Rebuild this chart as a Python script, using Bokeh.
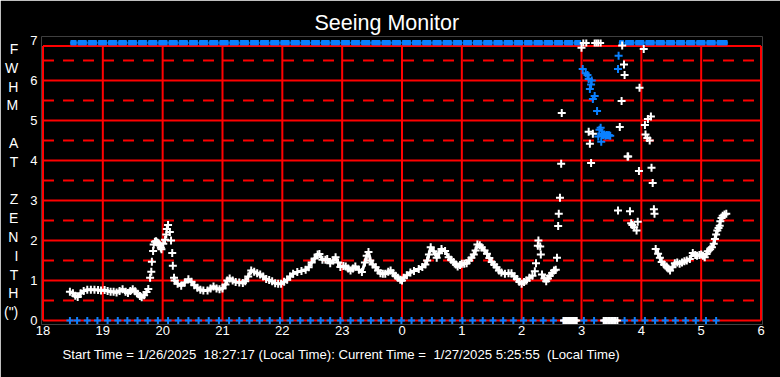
import math
from bokeh.plotting import figure
from bokeh.models import Range1d, FixedTicker, Title, LinearAxis
from bokeh.embed import file_html
from bokeh.resources import INLINE

# ---------------- data (hours since midnight 1/26; 24 = 0h on 1/27) ----------------
hour_ticks = [18, 19, 20, 21, 22, 23, 24, 25, 26, 27, 28, 29, 30]
hour_labels = ["18", "19", "20", "21", "22", "23", "0", "1", "2", "3", "4", "5", "6"]
fwhm_ticks = [0, 1, 2, 3, 4, 5, 6, 7]

# white series: dense bands (seeing FWHM)
band_a_t = [18.45, 18.50, 18.54, 18.58, 18.63, 18.68, 18.74, 18.80, 18.86, 18.92, 18.97, 19.03,
            19.08, 19.13, 19.18, 19.23, 19.28, 19.33, 19.38, 19.42, 19.46, 19.50, 19.54, 19.58,
            19.62, 19.65, 19.69, 19.73, 19.76]
band_a_v = [0.72, 0.68, 0.62, 0.59, 0.68, 0.74, 0.77, 0.77, 0.77, 0.76, 0.75, 0.76,
            0.74, 0.72, 0.72, 0.70, 0.74, 0.78, 0.72, 0.69, 0.74, 0.78, 0.73, 0.67,
            0.61, 0.58, 0.63, 0.71, 0.79]

band_c_t = [20.20, 20.25, 20.31, 20.37, 20.43, 20.48, 20.53, 20.58, 20.63, 20.68, 20.75, 20.80,
            20.85, 20.90, 20.95, 21.00, 21.05, 21.08, 21.12, 21.17, 21.22, 21.28, 21.34, 21.38,
            21.43, 21.48, 21.53, 21.58, 21.63, 21.68, 21.73, 21.78, 21.83, 21.88, 21.93, 21.98,
            22.03, 22.08, 22.13, 22.18, 22.25, 22.32, 22.39, 22.44, 22.49, 22.54, 22.59, 22.62,
            22.67, 22.72, 22.75, 22.80, 22.85, 22.89, 22.93, 22.97, 23.02, 23.06, 23.10, 23.14,
            23.18, 23.22, 23.28, 23.33, 23.38, 23.41, 23.44, 23.47, 23.51, 23.56, 23.60, 23.64,
            23.68, 23.72, 23.77, 23.81, 23.85, 23.89, 23.93, 23.97, 24.00, 24.03, 24.08, 24.14,
            24.20, 24.28, 24.34, 24.39, 24.42, 24.45, 24.48, 24.53, 24.58, 24.62, 24.66, 24.72,
            24.78, 24.82, 24.86, 24.90, 24.93, 24.97, 25.00, 25.04, 25.08, 25.12, 25.16, 25.20,
            25.23, 25.26, 25.30, 25.33, 25.38, 25.42, 25.46, 25.50, 25.54, 25.58, 25.62, 25.66,
            25.72, 25.78, 25.83, 25.88, 25.92, 25.96, 26.00, 26.04, 26.08, 26.13, 26.18]
band_c_v = [1.00, 0.92, 0.87, 0.95, 1.03, 0.97, 0.88, 0.82, 0.77, 0.75, 0.75, 0.80,
            0.85, 0.80, 0.78, 0.80, 0.90, 1.00, 1.05, 1.00, 0.96, 0.95, 0.94, 0.98,
            1.10, 1.25, 1.22, 1.18, 1.15, 1.10, 1.04, 1.01, 0.98, 0.93, 0.92, 0.92,
            0.97, 1.02, 1.10, 1.17, 1.21, 1.24, 1.27, 1.33, 1.45, 1.55, 1.65, 1.66,
            1.52, 1.52, 1.54, 1.43, 1.50, 1.58, 1.45, 1.34, 1.36, 1.35, 1.30, 1.25,
            1.30, 1.35, 1.27, 1.21, 1.45, 1.62, 1.71, 1.50, 1.40, 1.33, 1.25, 1.18,
            1.17, 1.17, 1.22, 1.25, 1.18, 1.12, 1.07, 1.02, 1.00, 1.07, 1.13, 1.20,
            1.24, 1.29, 1.34, 1.40, 1.50, 1.65, 1.83, 1.73, 1.57, 1.68, 1.79, 1.74,
            1.58, 1.52, 1.46, 1.40, 1.35, 1.39, 1.42, 1.42, 1.43, 1.50, 1.57, 1.65,
            1.75, 1.90, 1.88, 1.83, 1.75, 1.67, 1.56, 1.46, 1.40, 1.33, 1.25, 1.20,
            1.17, 1.18, 1.18, 1.10, 1.04, 0.97, 0.92, 0.96, 1.00, 1.07, 1.12]

band_e_t = [26.34, 26.38, 26.41, 26.44, 26.47, 26.51, 26.54, 26.57]
band_e_v = [1.15, 1.05, 0.98, 1.05, 1.12, 1.19, 1.25, 1.27]

band_g_t = [28.24, 28.28, 28.31, 28.34, 28.38, 28.42, 28.45, 28.48, 28.52, 28.56, 28.60, 28.64,
            28.68, 28.72, 28.76, 28.81, 28.86, 28.90, 28.93, 28.97, 29.00, 29.03, 29.06, 29.09,
            29.11, 29.15, 29.18, 29.21, 29.23, 29.25, 29.27, 29.29, 29.31, 29.32, 29.34, 29.36,
            29.39, 29.42]
band_g_v = [1.79, 1.67, 1.57, 1.46, 1.40, 1.35, 1.30, 1.25, 1.33, 1.43, 1.45, 1.42,
            1.45, 1.48, 1.50, 1.54, 1.69, 1.64, 1.62, 1.64, 1.65, 1.62, 1.58, 1.66,
            1.73, 1.78, 1.83, 1.92, 2.04, 2.15, 2.25, 2.31, 2.37, 2.48, 2.56, 2.62,
            2.65, 2.67]

# white series: isolated points
scat_t = [19.79, 19.81, 19.82, 19.84, 19.85, 19.87, 19.89, 19.91, 19.93, 19.95, 19.97, 19.98,
          20.01, 20.04, 20.06, 20.07, 20.09, 20.12, 20.14, 20.16, 20.17, 20.19,
          26.22, 26.24, 26.27, 26.28, 26.31, 26.32,
          26.59, 26.61, 26.62, 26.64, 26.66, 26.67,
          27.00, 27.12, 27.19, 27.14, 27.16,
          27.61, 27.64, 27.67, 27.68, 27.71, 27.72, 27.77, 27.78, 27.81, 27.83, 27.85, 27.88,
          27.92, 27.94, 27.96, 27.97, 28.04, 28.06, 28.07, 28.10, 28.11, 28.14, 28.16, 28.17,
          28.19, 28.21, 28.22]
scat_v = [1.07, 1.22, 1.47, 1.74, 1.90, 1.97, 1.98, 1.95, 1.93, 1.88, 1.82, 1.78,
          1.92, 2.02, 2.15, 2.29, 2.39, 2.21, 2.00, 1.69, 1.37, 1.07,
          1.23, 1.43, 1.87, 2.00, 1.85, 1.65,
          1.57, 2.36, 2.67, 3.07, 3.92, 5.19,
          6.82, 4.72, 4.67, 4.42, 3.94,
          2.75, 4.84, 5.49, 6.875, 6.40, 6.14, 4.10, 4.10, 2.73, 2.43, 2.39, 2.33,
          2.25, 2.47, 3.74, 5.82, 6.79, 4.89, 4.65, 4.56, 5.04, 4.50, 5.10, 3.82,
          3.44, 2.78, 2.67]

# white points pinned at the bottom / top edges
white_low_t = [26.70, 26.725, 26.75, 26.775, 26.80, 26.825, 26.85, 26.875, 26.90, 26.92,
               27.37, 27.395, 27.42, 27.445, 27.47, 27.495, 27.52, 27.545, 27.57, 27.60]
white_low_v = [0.0] * len(white_low_t)
white_top_t = [27.03, 27.08, 27.22, 27.25, 27.28, 27.32]
white_top_v = [6.94] * len(white_top_t)

# blue series
blue_low_t = [18.45, 18.57, 18.74, 18.91, 19.08, 19.25, 19.41, 19.58, 19.75, 19.92, 20.09,
              20.26, 20.43, 20.60, 20.77, 20.94, 21.11, 21.28, 21.45, 21.62, 21.79, 21.96,
              22.13, 22.30, 22.47, 22.64, 22.80, 22.97, 23.14, 23.31, 23.48, 23.65, 23.82,
              23.99, 24.16, 24.33, 24.50, 24.67, 24.84, 25.01, 25.18, 25.35, 25.52, 25.69,
              25.86, 26.03, 26.19, 26.36, 26.53, 26.70, 26.87, 27.04, 27.21, 27.38, 27.55,
              27.72, 27.89, 28.06, 28.23, 28.40, 28.57, 28.74, 28.91, 29.08, 29.25]
blue_low_v = [0.0] * len(blue_low_t)

top_run_start = [18.45, 27.62]
top_run_end = [27.00, 29.45]

blue_mid_t = [27.02, 27.07, 27.10, 27.12, 27.17, 27.16, 27.14, 27.22, 27.19, 27.26, 27.30,
              27.32, 27.28, 27.33, 27.34, 27.36, 27.38, 27.40, 27.42, 27.44, 27.46, 27.48,
              27.61, 27.62]
blue_mid_v = [6.29, 6.18, 6.14, 6.04, 6.00, 5.90, 5.79, 5.61, 5.54, 5.24, 4.77,
              4.82, 4.60, 4.47, 4.66, 4.64, 4.65, 4.62, 4.64, 4.63, 4.63, 4.62,
              6.29, 6.62]

y_letters = ["F", "W", "H", "M", " ", "A", "T", " ", "Z", "E", "N", "I", "T", "H", "(\")"]
title_text = "Seeing Monitor"
footer_text = ("Start Time = 1/26/2025\u00a0\u00a018:27:17 (Local Time): Current Time =\u00a0\u00a0"
               "1/27/2025 5:25:55\u00a0\u00a0(Local Time)")

# ---------------- styling ----------------
BLUE = "#0a80ff"
RED = "#ff0000"
FONT = "Liberation Sans"

p = figure(width=780, height=377, output_backend="svg", toolbar_location=None,
           x_range=Range1d(17.975, 30.025), y_range=Range1d(-0.1, 7.1),
           min_border_left=39, min_border_right=18, min_border_top=36, min_border_bottom=53,
           background_fill_color="black", border_fill_color="black",
           outline_line_color=None)
p.grid.visible = False

p.title.text = title_text
p.title.align = "left"
p.title.offset = 273
p.title.text_color = "white"
p.title.text_font = FONT
p.title.text_font_size = "21.5px"
p.title.text_font_style = "normal"
p.title.standoff = 4

p.add_layout(Title(text=footer_text, align="left", offset=21, text_color="white",
                   text_font=FONT, text_font_size="13.2px", text_font_style="normal",
                   standoff=15), "below")

p.xaxis.ticker = FixedTicker(ticks=hour_ticks)
p.xaxis.major_label_overrides = {t: s for t, s in zip(hour_ticks, hour_labels)}
p.yaxis.ticker = FixedTicker(ticks=fwhm_ticks)
for ax in (p.xaxis, p.yaxis):
    ax.axis_line_color = None
    ax.major_tick_line_color = None
    ax.minor_tick_line_color = None
    ax.major_tick_out = 0
    ax.major_tick_in = 0
    ax.major_label_text_color = "white"
    ax.major_label_text_font = FONT
    ax.major_label_text_font_size = "13px"
p.xaxis.major_label_standoff = 1
p.yaxis.major_label_standoff = 4

# vertical stacked y-axis title
ya = p.yaxis[0]
ya.axis_label = "\n".join(y_letters)
ya.axis_label_text_color = "white"
ya.axis_label_text_font = FONT
ya.axis_label_text_font_size = "14px"
ya.axis_label_text_font_style = "normal"
ya.axis_label_text_line_height = 1.175
ya.axis_label_text_align = "center"
ya.axis_label_standoff = 9
ya.axis_label_orientation = "horizontal"

# red grid / frame
top_edge = 6.8625
x_lo, x_hi = hour_ticks[0], hour_ticks[-1]
p.segment(x0=hour_ticks, x1=hour_ticks, y0=[0] * len(hour_ticks), y1=[top_edge] * len(hour_ticks),
          line_color=RED, line_width=2)
solid_y = fwhm_ticks[:-1] + [top_edge]
p.segment(x0=[x_lo] * len(solid_y), x1=[x_hi] * len(solid_y), y0=solid_y, y1=solid_y,
          line_color=RED, line_width=2)
dash_y = [v + 0.5 for v in fwhm_ticks[:-1]]
p.segment(x0=[x_lo] * len(dash_y), x1=[x_hi] * len(dash_y), y0=dash_y, y1=dash_y,
          line_color=RED, line_width=2, line_dash="11 9")

# blue top bar (dense points at the upper limit, notched at the low readings)
notch = 0.015
blk_l, blk_r = [], []
for s, e in zip(top_run_start, top_run_end):
    cuts = [s] + [t for t in blue_low_t if s < t < e] + [e]
    for a, b in zip(cuts[:-1], cuts[1:]):
        blk_l.append(a + notch)
        blk_r.append(b - notch)
p.segment(x0=top_run_start, x1=top_run_end, y0=[6.94] * 2, y1=[6.94] * 2, line_color=BLUE, line_width=1)
p.quad(left=blk_l, right=blk_r, bottom=6.89, top=7.0, color=BLUE)

p.scatter(blue_low_t, blue_low_v, marker="cross", size=7, line_color=BLUE, line_width=2)
p.scatter(blue_mid_t, blue_mid_v, marker="cross", size=8, line_color=BLUE, line_width=2)

# white series
for bt, bv in ((band_a_t, band_a_v), (band_c_t, band_c_v), (band_e_t, band_e_v), (band_g_t, band_g_v)):
    p.line(bt, bv, line_color="white", line_width=3)
    p.scatter(bt, bv, marker="cross", size=8, line_color="white", line_width=2)
p.scatter(scat_t, scat_v, marker="cross", size=8, line_color="white", line_width=2)
p.scatter(white_low_t, white_low_v, marker="cross", size=7, line_color="white", line_width=2)
p.scatter(white_top_t, white_top_v, marker="cross", size=7, line_color="white", line_width=2)

open("out.html", "w").write(file_html(p, INLINE))
